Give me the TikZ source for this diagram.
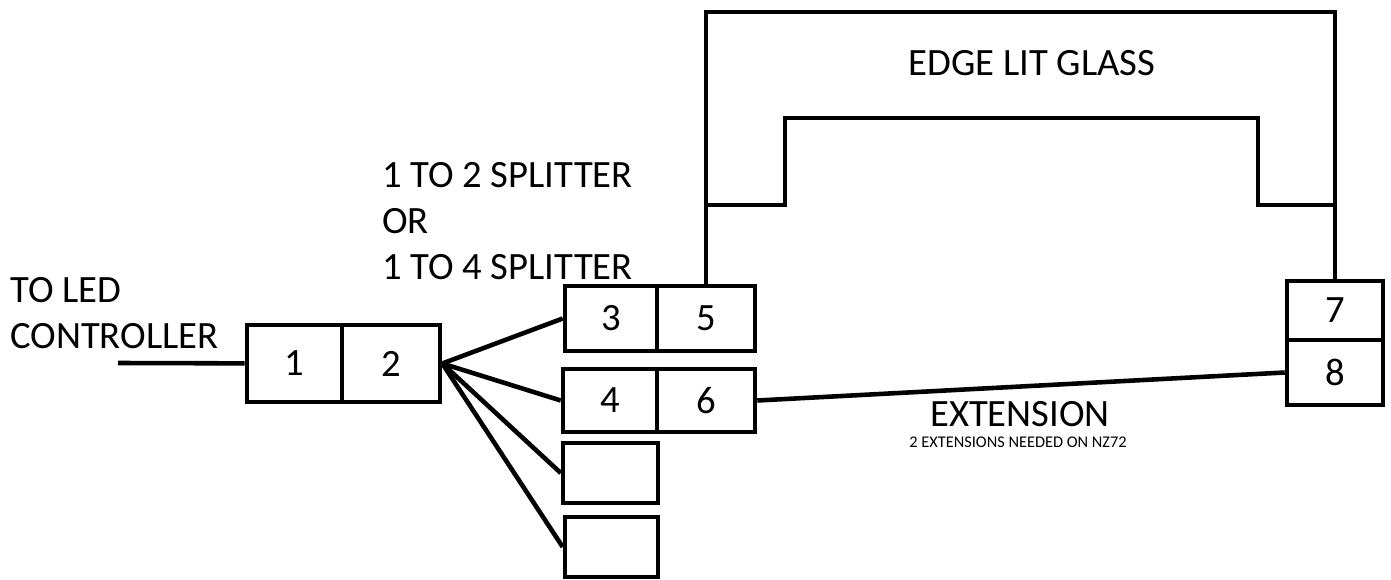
\documentclass[tikz,border=0pt]{standalone}
\usepackage{fontspec}
\setmainfont{Carlito}
\usetikzlibrary{calc}

\begin{document}
\begin{tikzpicture}[x=0.02cm,y=-0.02cm,line width=2.6pt,
      box/.style={rectangle,draw,inner sep=0pt,font=\fontsize{22}{26}\selectfont},
      txt/.style={inner sep=0pt,font=\fontsize{22}{26}\selectfont,align=left}]
      \useasboundingbox (0,0) rectangle (1391,580);

      % controller side
      \coordinate (lead) at (118, 363);
      \node[box,minimum width=1.90cm,minimum height=1.54cm] (1) at (294.5, 363.5) {1};
      \node[box,minimum width=1.96cm,minimum height=1.54cm] (2) at (391, 363.5) {\raisebox{-2pt}{2}};

      % splitter outputs
      \node[box,minimum width=1.84cm,minimum height=1.30cm] (3) at (611, 318.5) {3};
      \node[box,minimum width=1.96cm,minimum height=1.30cm] (5) at (706, 318.5) {\raisebox{-5pt}{5}};
      \node[box,minimum width=1.88cm,minimum height=1.26cm] (4) at (610, 400.5) {4};
      \node[box,minimum width=1.96cm,minimum height=1.26cm] (6) at (706, 400.5) {\raisebox{-3pt}{6}};
      \node[box,minimum width=1.90cm,minimum height=1.20cm] (a) at (610.5, 473) {};
      \node[box,minimum width=1.86cm,minimum height=1.20cm] (b) at (611.5, 547) {};

      % far end of the glass
      \node[box,minimum width=1.92cm,minimum height=1.18cm] (7) at (1335, 310.5) {7};
      \node[box,minimum width=1.92cm,minimum height=1.30cm] (8) at (1335, 372.5) {\raisebox{-2pt}{8}};

      % labels
      \node[txt,anchor=west] (led) at (8, 313) {TO LED\\CONTROLLER};
      \node[txt,anchor=west] (split) at (380, 221) {1 TO 2 SPLITTER\\OR\\1 TO 4 SPLITTER};
      \node[txt] (glass) at (1032, 63) {EDGE LIT GLASS};
      \node[txt] (ext) at (1020, 414) {EXTENSION};
      \node[inner sep=0pt,font=\fontsize{9.3}{11}\selectfont] (note) at (1018, 442)
        {2 EXTENSIONS NEEDED ON NZ72};

      \coordinate (top) at (1000, 12);

      \path[draw]
      (lead) edge (1)
      (2.east) edge (3.west)
      (2.east) edge (4.west)
      (2.east) edge (a.west)
      (2.east) edge (b.west)
      (6.east) edge (8.west)
      ;

      % glass outline
      \draw (5.north) |- (top) -| (7.north);
      \draw (707, 205) -- (785, 205) -- (785, 118) -- (1258, 118) -- (1258, 205) -- (1337, 205);

      \end{tikzpicture}
\end{document}
